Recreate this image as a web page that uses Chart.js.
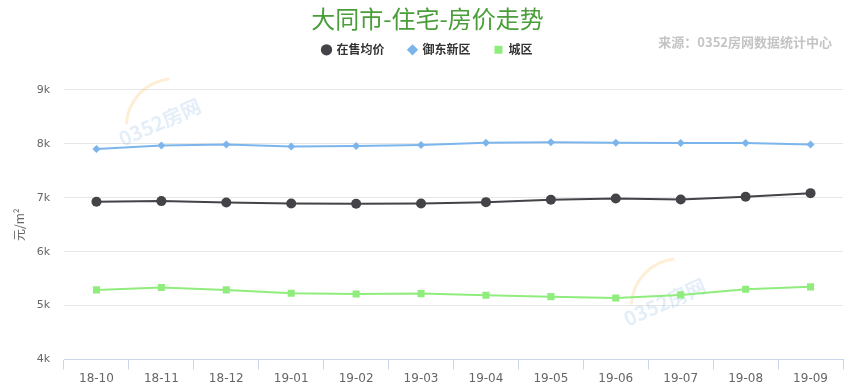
<!DOCTYPE html>
<html>
<head>
<meta charset="utf-8">
<script src="https://cdn.jsdelivr.net/npm/chart.js@4"></script>
<style>
  html, body { margin: 0; padding: 0; background: #fff; }
  #wrap { width: 849px; height: 392px; position: relative; }
</style>
</head>
<body>
<div id="wrap"><canvas id="myChart"></canvas></div>
<script>
const months = ['18-10', '18-11', '18-12', '19-01', '19-02', '19-03', '19-04', '19-05', '19-06', '19-07', '19-08', '19-09'];
const avgPrice = [6924, 6937, 6913, 6894, 6887, 6894, 6918, 6961, 6987, 6968, 7017, 7085];
const yudongPrice = [7903, 7968, 7987, 7950, 7957, 7978, 8020, 8028, 8020, 8015, 8015, 7987];
const chengquPrice = [5292, 5335, 5292, 5229, 5217, 5223, 5192, 5167, 5143, 5199, 5303, 5348];
const yTicks = [4000, 5000, 6000, 7000, 8000, 9000];

const cjk = '"Noto Sans CJK SC", "Microsoft YaHei", sans-serif';
const ctx = document.getElementById('myChart');

// extra room under the legend
const legendGap = {
    id: 'legendGap',
    beforeInit(chart) {
        const fit = chart.legend.fit;
        chart.legend.fit = function () {
            fit.bind(chart.legend)();
            this.height += 24;
        };
    }
};

// source note + faint watermark
const extras = {
    id: 'extras',
    beforeDatasetsDraw(chart) {
        const c = chart.ctx;
        c.save();
        c.font = 'bold 20px ' + cjk;
        [[120, 140], [625, 320]].forEach(([x, y]) => {
            c.save();
            c.translate(x, y);
            c.rotate(-0.42);
            c.globalAlpha = 0.22;
            c.strokeStyle = '#f5b041';
            c.lineWidth = 3;
            c.beginPath();
            c.arc(55, 10, 48, Math.PI * 1.15, Math.PI * 1.6);
            c.stroke();
            c.globalAlpha = 0.15;
            c.fillStyle = '#4a90d9';
            c.fillText('0352房网', 0, 0);
            c.restore();
        });
        c.restore();
    },
    afterDraw(chart) {
        const c = chart.ctx;
        c.save();
        c.font = 'bold 13px ' + cjk;
        c.fillStyle = '#c4c4c4';
        c.textAlign = 'right';
        c.textBaseline = 'middle';
        c.fillText('来源：0352房网数据统计中心', 832, 42);
        c.restore();
    }
};

const chart = new Chart(ctx, {
    type: 'line',
    data: {
        labels: months,
        datasets: [{
            label: '在售均价',
            data: avgPrice,
            borderColor: '#434348',
            backgroundColor: '#434348',
            pointStyle: 'circle',
            pointRadius: 5
        }, {
            label: '御东新区',
            data: yudongPrice,
            borderColor: '#7cb5ec',
            backgroundColor: '#7cb5ec',
            pointStyle: 'rectRot',
            pointRadius: 4
        }, {
            label: '城区',
            data: chengquPrice,
            borderColor: '#90ed7d',
            backgroundColor: '#90ed7d',
            pointStyle: 'rect',
            pointRadius: 5
        }]
    },
    options: {
        responsive: true,
        maintainAspectRatio: false,
        animation: false,
        layout: {
            padding: { left: 12, right: 6, top: 2, bottom: 4 }
        },
        elements: {
            line: { borderWidth: 2, tension: 0 },
            point: { borderWidth: 0, hoverRadius: 5 }
        },
        scales: {
            x: {
                offset: true,
                grid: {
                    offset: true,
                    drawOnChartArea: false,
                    drawTicks: true,
                    tickLength: 10,
                    color: '#ccd6eb'
                },
                border: { display: true, color: '#ccd6eb' },
                ticks: {
                    color: '#666',
                    font: { size: 12, family: 'Verdana, "DejaVu Sans", sans-serif' },
                    padding: 2,
                    maxRotation: 0
                }
            },
            y: {
                min: 4000,
                max: 9000,
                afterBuildTicks(scale) {
                    scale.ticks = yTicks.map(v => ({ value: v }));
                },
                afterFit(scale) {
                    scale.width = 52;
                },
                grid: { color: '#e6e6e6', drawTicks: false },
                border: { display: false },
                ticks: {
                    color: '#666',
                    padding: 14,
                    font: { size: 11, family: '"Lucida Grande", "DejaVu Sans", sans-serif' },
                    callback: v => (v / 1000) + 'k'
                },
                title: {
                    display: true,
                    text: '元/m²',
                    color: '#666',
                    font: { size: 12, family: cjk },
                    padding: 0
                }
            }
        },
        plugins: {
            title: {
                display: true,
                text: '大同市-住宅-房价走势',
                color: '#4a9e3a',
                font: { size: 24, weight: 'normal', family: cjk },
                padding: { top: 2, bottom: -13 }
            },
            legend: {
                display: true,
                labels: {
                    usePointStyle: true,
                    boxWidth: 8,
                    boxHeight: 8,
                    color: '#333',
                    font: { size: 12, weight: 'bold', family: cjk },
                    padding: 24
                }
            },
            tooltip: { enabled: false }
        }
    },
    plugins: [legendGap, extras]
});
</script>
</body>
</html>
